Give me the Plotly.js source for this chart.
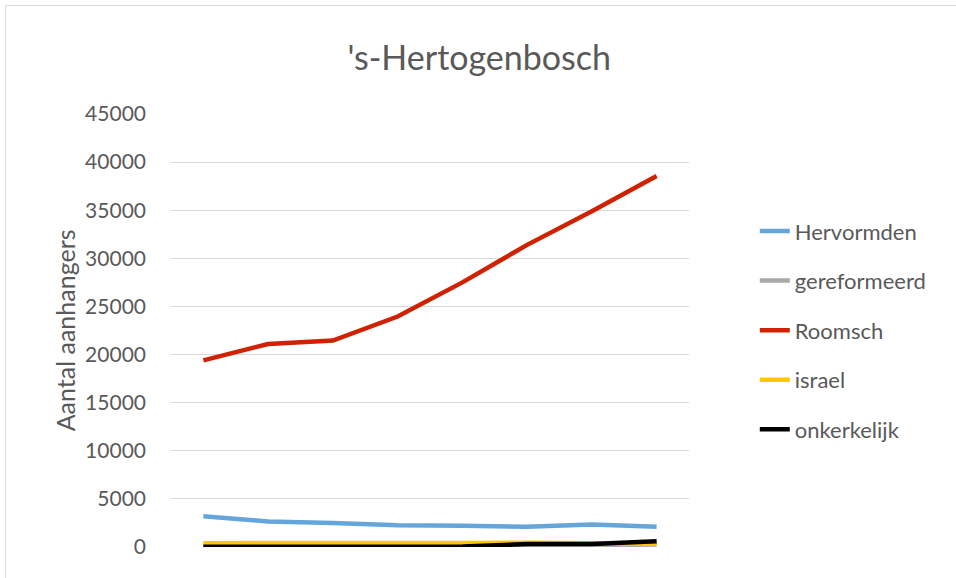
<!DOCTYPE html>
<html>
<head>
<meta charset="utf-8">
<script src="https://cdn.plot.ly/plotly-3.0.1.min.js"></script>
<style>html,body{margin:0;padding:0;background:#fff;}#chart{width:956px;height:578px;}</style>
</head>
<body>
<div id="chart"></div>
<script>
// Data
const categories = ['1849', '1859', '1869', '1879', '1889', '1899', '1909', '1920'];
const hervormden   = [3200, 2650, 2500, 2250, 2200, 2100, 2350, 2100];
const gereformeerd = [100, 100, 150, 150, 150, 200, 200, 250];
const roomsch      = [19400, 21100, 21450, 23950, 27500, 31400, 34900, 38550];
const israel       = [400, 380, 420, 420, 420, 450, 400, 350];
const onkerkelijk  = [20, 20, 20, 30, 60, 300, 300, 600];

const seriesNames  = ['Hervormden', 'gereformeerd', 'Roomsch', 'israel', 'onkerkelijk'];
const seriesValues = [hervormden, gereformeerd, roomsch, israel, onkerkelijk];
const seriesColors = ['#64A6DB', '#A9A9A9', '#D02100', '#FFC800', '#000000'];

const traces = seriesNames.map((name, i) => ({
  type: 'scatter',
  mode: 'lines',
  name: name,
  x: categories,
  y: seriesValues[i],
  legendgroup: 'g' + i,
  line: {color: seriesColors[i], width: 4.5},
  hoverinfo: 'x+y+name'
}));

const layout = {
  width: 956,
  height: 578,
  paper_bgcolor: '#ffffff',
  plot_bgcolor: '#ffffff',
  margin: {l: 171, r: 267, t: 114, b: 31, pad: 0},
  font: {family: 'Lato, "Open Sans", sans-serif', color: '#595959'},
  title: {
    text: "'s-Hertogenbosch",
    font: {size: 34, color: '#595959', family: 'Lato, "Open Sans", sans-serif'},
    xref: 'paper', x: 0.595, xanchor: 'center',
    yref: 'container', y: 0.9, yanchor: 'middle'
  },
  xaxis: {
    type: 'category',
    range: [-0.5, 7.5],
    showticklabels: false,
    showgrid: false,
    zeroline: false,
    showline: false,
    ticks: ''
  },
  yaxis: {
    range: [0, 45000],
    tickvals: [0, 5000, 10000, 15000, 20000, 25000, 30000, 35000, 40000, 45000],
    ticktext: ['0', '5000', '10000', '15000', '20000', '25000', '30000', '35000', '40000', '45000'],
    showgrid: true,
    gridcolor: '#d9d9d9',
    gridwidth: 1,
    zeroline: false,
    showline: false,
    ticks: '',
    ticklabelstandoff: 24,
    tickfont: {size: 21, color: '#595959'}
  },
  showlegend: true,
  legend: {
    x: 1.127, xanchor: 'left',
    y: 0.778, yanchor: 'top',
    font: {size: 22, color: '#595959'},
    traceorder: 'grouped',
    tracegroupgap: 18,
    itemwidth: 30,
    bgcolor: 'rgba(0,0,0,0)'
  },
  annotations: [{
    text: 'Aantal aanhangers',
    textangle: -90,
    xref: 'paper', yref: 'paper',
    x: -0.205, y: 0.5,
    xanchor: 'center', yanchor: 'middle',
    showarrow: false,
    font: {size: 25, color: '#595959'}
  }],
  shapes: [{
    type: 'rect',
    xref: 'paper', yref: 'paper',
    x0: -0.3195, x1: 1.7, y0: -0.3, y1: 1.2505,
    line: {color: '#d9d9d9', width: 1},
    fillcolor: 'rgba(0,0,0,0)',
    layer: 'below'
  }]
};

Plotly.newPlot('chart', traces, layout, {displayModeBar: false, staticPlot: true});
</script>
</body>
</html>
